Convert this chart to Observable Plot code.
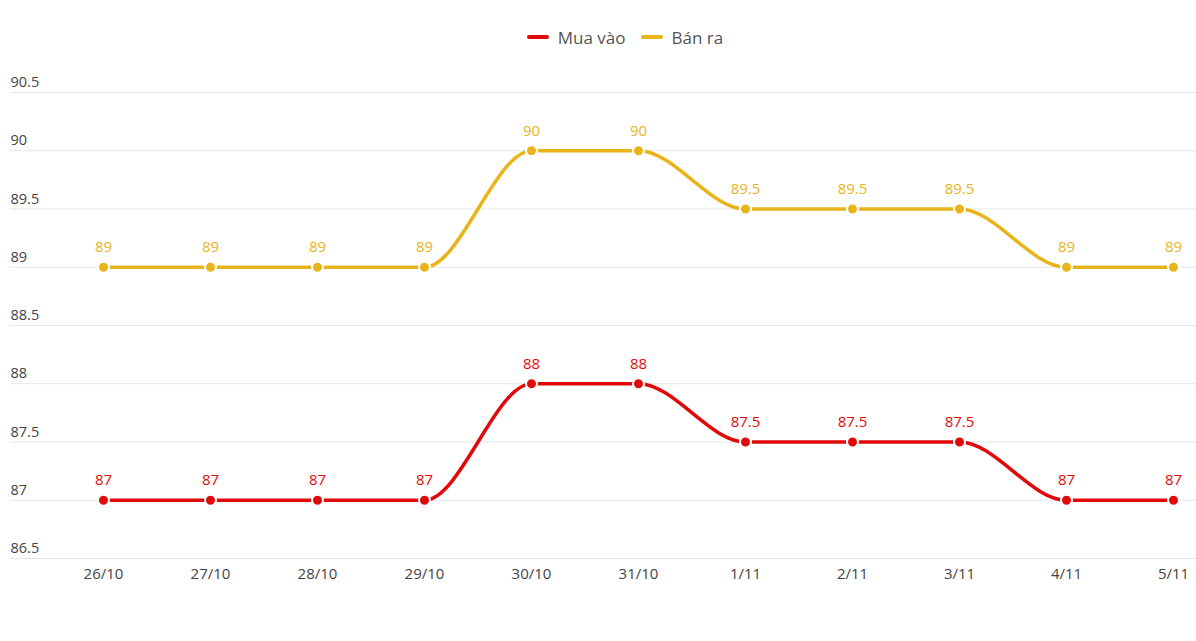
<!DOCTYPE html>
<html>
<head>
<meta charset="utf-8">
<script src="https://cdn.jsdelivr.net/npm/d3@7"></script>
<script src="https://cdn.jsdelivr.net/npm/@observablehq/plot@0.6"></script>
<style>
  html, body { margin: 0; padding: 0; background: #fff; }
  body { width: 1196px; height: 641px; overflow: hidden; font-family: "Open Sans", sans-serif; }
  #legend { height: 60px; display: flex; justify-content: center; align-items: center; gap: 15px; padding-top: 14px; padding-left: 54px; box-sizing: border-box; font-size: 17px; color: #555; }
  .item { display: flex; align-items: center; gap: 9px; }
  .sw { width: 22px; height: 4px; border-radius: 2px; }
</style>
</head>
<body>
<div id="legend"></div>
<div id="chart"></div>
<script>
const dates = ["26/10","27/10","28/10","29/10","30/10","31/10","1/11","2/11","3/11","4/11","5/11"];
const muaVao = [87, 87, 87, 87, 88, 88, 87.5, 87.5, 87.5, 87, 87];
const banRa = [89, 89, 89, 89, 90, 90, 89.5, 89.5, 89.5, 89, 89];
const seriesNames = ["Mua vào", "Bán ra"];
const seriesColors = ["#e00a0a", "#e8b41a"];
const yTicks = [86.5, 87, 87.5, 88, 88.5, 89, 89.5, 90, 90.5];

const data = [];
[muaVao, banRa].forEach((vals, si) => {
  vals.forEach((v, i) => data.push({ date: dates[i], value: v, series: seriesNames[si] }));
});

const legend = document.getElementById("legend");
seriesNames.forEach((n, i) => {
  const it = document.createElement("div");
  it.className = "item";
  it.innerHTML = `<span class="sw" style="background:${seriesColors[i]}"></span><span>${n}</span>`;
  legend.appendChild(it);
});

const W = 1196, H = 581;
const chart = Plot.plot({
  width: W,
  height: H,
  marginLeft: 10,
  marginRight: 0,
  marginTop: 32,
  marginBottom: 83,
  style: { fontFamily: "Open Sans, sans-serif", fontSize: "15px", background: "#fff" },
  x: { type: "point", domain: dates, range: [101, 1174], padding: 0, label: null },
  y: { domain: [86.5, 90.5], label: null },
  color: { domain: seriesNames, range: seriesColors },
  marks: [
    Plot.ruleY(yTicks, { stroke: "#e6e6e6", strokeWidth: 1 }),
    Plot.text(yTicks, { y: d => d, text: d => String(d), frameAnchor: "left", textAnchor: "start", dy: -10, fill: "#444", fontSize: 14.5 }),
    Plot.axisX({ tickSize: 0, tickPadding: 10, fontSize: 15, color: "#444", label: null }),
    Plot.axisY({ ticks: [], label: null }),
    Plot.line(data, { x: "date", y: "value", z: "series", stroke: "series", strokeWidth: 3.5, curve: "monotone-x" }),
    Plot.dot(data, { x: "date", y: "value", fill: "series", stroke: "#fff", strokeWidth: 2, r: 5.5 }),
    Plot.text(data, { x: "date", y: "value", text: d => String(d.value), fill: "series", dy: -20, fontSize: 15 })
  ]
});
document.getElementById("chart").appendChild(chart);
</script>
</body>
</html>
